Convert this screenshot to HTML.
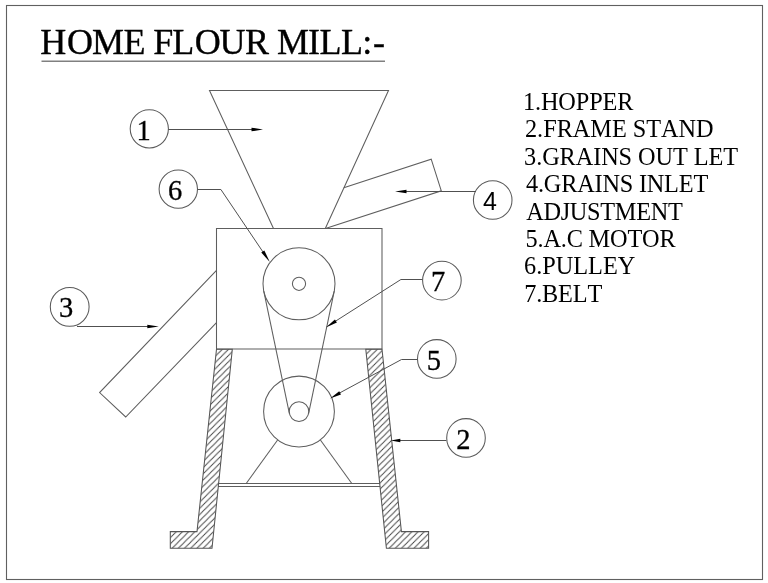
<!DOCTYPE html>
<html><head><meta charset="utf-8">
<style>
html,body{margin:0;padding:0;background:#fff;}
body{width:768px;height:583px;overflow:hidden;position:relative;}
svg{position:absolute;left:0;top:0;will-change:transform;font-kerning:none;}
</style></head>
<body>
<svg width="768" height="583" viewBox="0 0 768 583">
<defs>
<pattern id="hatch" patternUnits="userSpaceOnUse" width="6.2" height="6.2" patternTransform="translate(1.2,0)">
<path d="M-1,7.2 L7.2,-1 M-1,1 L1,-1 M5.2,7.2 L7.2,5.2" stroke="#444" stroke-width="0.95"/>
</pattern>
</defs>
<rect x="6.5" y="5.5" width="756" height="574" fill="none" stroke="#606060" stroke-width="1.1"/>
<text x="40.2 67.1 91.9 123.6 145 153.3 172.3 194.8 219.4 245.1 270 276.9 308 319.4 341 362.3 373.1" y="54" font-family="Liberation Serif" font-size="36" fill="#000" stroke="#000" stroke-width="0.35">HOME FLOUR MILL:-</text>
<line x1="41.5" y1="61.2" x2="385" y2="61.2" stroke="#808080" stroke-width="1.6"/>
<g font-family="Liberation Serif" font-size="24.3" fill="#000">
<text x="522.9" y="109.9" textLength="110.59">1.HOPPER</text>
<text x="525.0" y="137.3" textLength="188.62">2.FRAME STAND</text>
<text x="524.1" y="164.7" textLength="213.88">3.GRAINS OUT LET</text>
<text x="526.0" y="192.1" textLength="182.22">4.GRAINS INLET</text>
<text x="526.2" y="219.5" textLength="156.6">ADJUSTMENT</text>
<text x="525.5" y="246.9" textLength="150.17">5.A.C MOTOR</text>
<text x="524.0" y="274.3" textLength="111.26">6.PULLEY</text>
<text x="524.2" y="301.7" textLength="78.05">7.BELT</text>
</g>
<g fill="none" stroke="#5e5e5e" stroke-width="1.05">
<polyline points="273.5,228.5 209.5,90.5 388.5,90.5 325.3,228.5"/>
<polyline points="343.8,187.8 431.2,159.2 441.3,190.8 325.5,228.5"/>
<path d="M216.5,228.5 H382 V349 H216.5 Z"/>
<polyline points="216.5,270.4 99.6,392.6 125.7,417 216.5,322.6"/>
<circle cx="299.0" cy="283.8" r="36.0"/>
<circle cx="299" cy="283.8" r="6.6"/>
<line x1="263.76" y1="291.18" x2="289.41" y2="413.61"/>
<line x1="334.24" y1="291.18" x2="308.59" y2="413.61"/>
<circle cx="299.0" cy="411.6" r="9.8"/>
<circle cx="299" cy="411.5" r="35.4"/>
<line x1="277.6" y1="440" x2="246.2" y2="483.5"/>
<line x1="320.4" y1="440" x2="351.8" y2="483.5"/>
<line x1="218.4" y1="483.5" x2="380" y2="483.5"/>
<line x1="218.0" y1="486.5" x2="380.2" y2="486.5"/>
</g>
<g stroke="#555" stroke-width="1.05">
<polygon points="216.5,349.3 232.3,349.3 212,548.3 170.3,548.3 170.3,531.6 197,531.6" fill="url(#hatch)"/>
<polygon points="365.8,349.3 382,349.3 401.4,531.6 428.6,531.6 428.6,548.3 386.4,548.3" fill="url(#hatch)"/>
</g>
<g fill="none" stroke="#5a5a5a" stroke-width="1.05">
<circle cx="149.3" cy="128.8" r="19.1"/>
<circle cx="178.3" cy="189.1" r="19.2"/>
<circle cx="69.7" cy="306.8" r="19.4"/>
<circle cx="492.7" cy="200" r="19.3"/>
<circle cx="441.9" cy="280.6" r="19.3"/>
<circle cx="436.8" cy="358.9" r="19.3"/>
<circle cx="466" cy="437.9" r="19.3"/>
</g>
<g fill="none" stroke="#505050" stroke-width="1.0">
<line x1="168.4" y1="129.5" x2="252" y2="129.5"/>
<polyline points="197.7,189.5 220.9,189.5 263,252"/>
<line x1="77" y1="326.5" x2="148" y2="326.5"/>
<line x1="476" y1="191.5" x2="405" y2="191.5"/>
<polyline points="422.5,279.5 400.9,279.5 335,321.5"/>
<polyline points="417.4,359.5 401.5,359.5 339,393.3"/>
<line x1="446.4" y1="440.5" x2="400" y2="440.5"/>
</g>
<g fill="#000">
<polygon points="263.00,129.50 251.50,131.35 251.50,127.65"/>
<polygon points="269.80,261.90 261.27,252.58 264.34,250.51"/>
<polygon points="158.80,326.50 147.30,328.35 147.30,324.65"/>
<polygon points="395.00,191.50 406.50,189.65 406.50,193.35"/>
<polygon points="325.80,327.40 334.92,319.39 336.91,322.51"/>
<polygon points="330.00,398.40 339.22,391.28 340.99,394.53"/>
<polygon points="390.80,440.50 400.30,438.80 400.30,442.20"/>
</g>
<g font-family="Liberation Serif" font-size="28.5" fill="#000" stroke="#000" stroke-width="0.3">
<text x="136.4" y="140.15">1</text>
<text x="168" y="200">6</text>
<text x="59" y="317.35">3</text>
<text x="430.9" y="291.3">7</text>
<text x="426.75" y="369.8">5</text>
<text x="456.3" y="449.1">2</text>
</g>
<text x="482.95" y="210.05" font-family="Liberation Sans" font-size="25" fill="#000">4</text>
</svg>
</body></html>
